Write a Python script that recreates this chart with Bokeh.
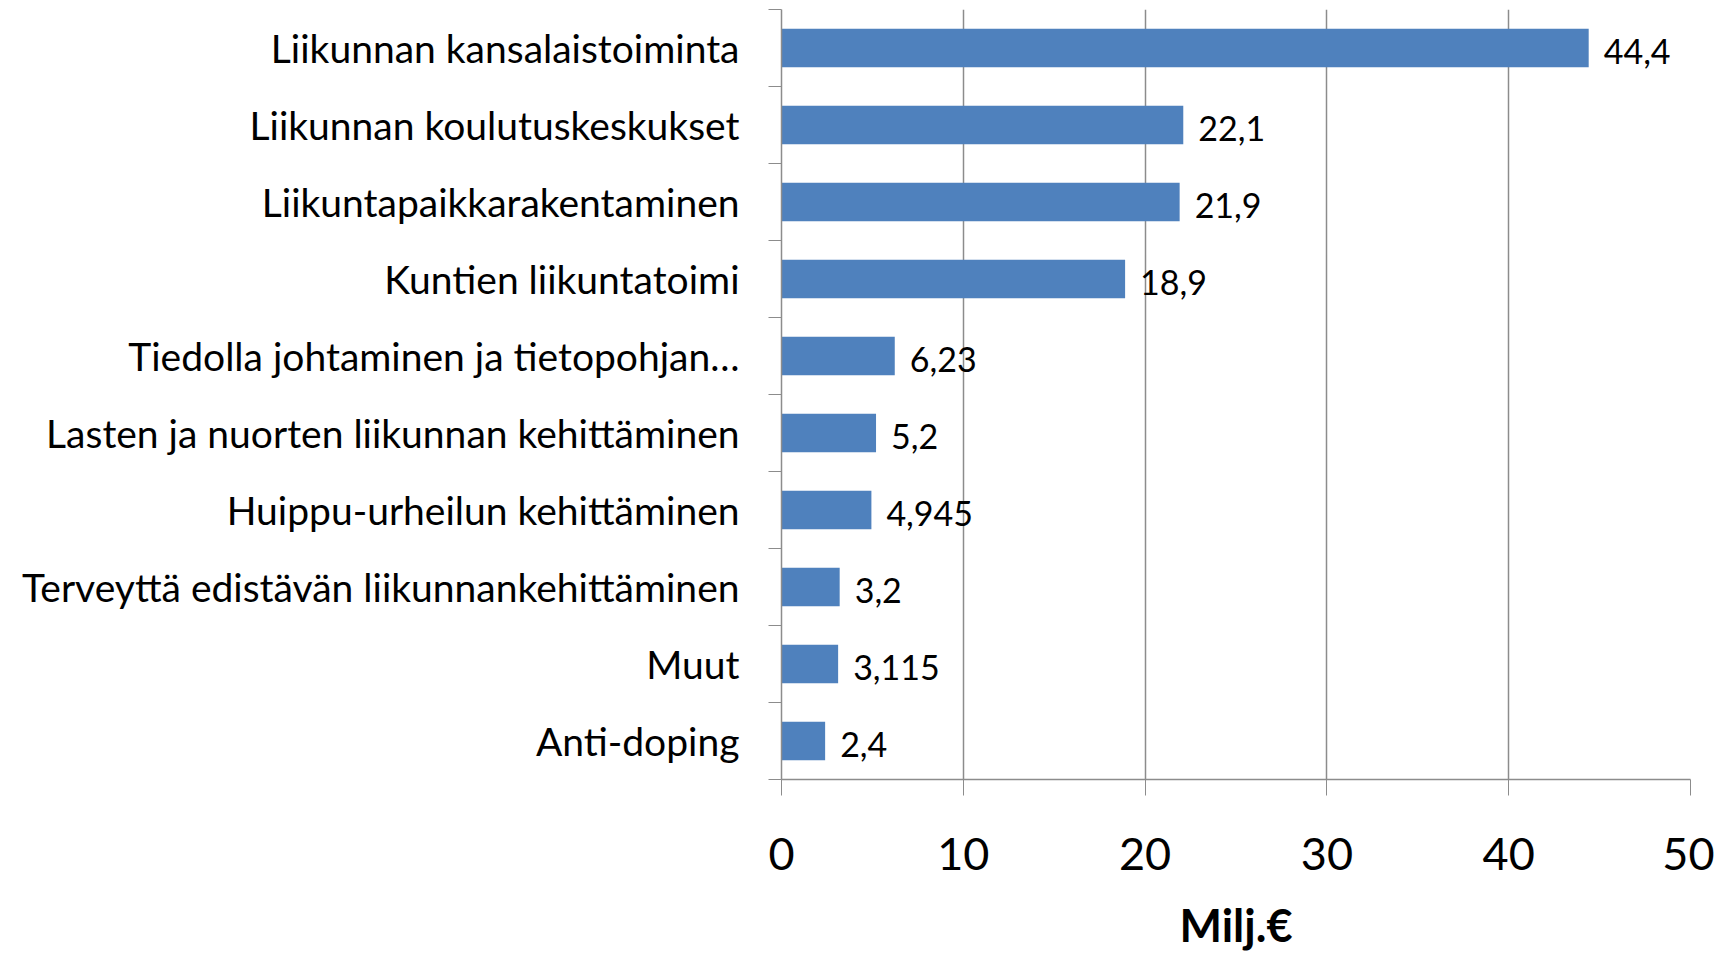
from bokeh.plotting import figure
from bokeh.models import FixedTicker, ColumnDataSource, Range1d
from bokeh.layouts import column
from bokeh.embed import file_html
from bokeh.resources import INLINE
from bokeh.core.properties import value

categories = [
    "Liikunnan kansalaistoiminta",
    "Liikunnan koulutuskeskukset",
    "Liikuntapaikkarakentaminen",
    "Kuntien liikuntatoimi",
    "Tiedolla johtaminen ja tietopohjan\u2026",
    "Lasten ja nuorten liikunnan kehittäminen",
    "Huippu-urheilun kehittäminen",
    "Terveyttä edistävän liikunnankehittäminen",
    "Muut",
    "Anti-doping",
]
values = [44.4, 22.1, 21.9, 18.9, 6.23, 5.2, 4.945, 3.2, 3.115, 2.4]
x_ticks = [0, 10, 20, 30, 40, 50]
x_label = "Milj.€"

FONT = "Lato"
n = len(categories)
ypos = [n - 1 - i + 0.5 for i in range(n)]
labels = [str(v).replace(".", ",") for v in values]

src = ColumnDataSource(dict(y=ypos, v=values, lab=labels, cat=categories))

xr = Range1d(x_ticks[0], x_ticks[-1])
p = figure(width=1714, height=895, output_backend="svg", toolbar_location=None,
           x_range=xr, y_range=Range1d(0, n),
           min_border_left=781, min_border_right=24, min_border_top=9,
           min_border_bottom=116)
p.outline_line_color = None
p.background_fill_color = "white"
p.border_fill_color = "white"

p.hbar(y="y", right="v", left=0, height=0.5, source=src,
       fill_color="#4F81BD", line_color=None)

p.text(x="v", y="y", text="lab", source=src, x_offset=15, y_offset=3,
       text_baseline="middle", text_align="left",
       text_font=value(FONT), text_font_size="34px", text_color="black")

# x axis
p.xaxis.ticker = FixedTicker(ticks=x_ticks)
p.xaxis.axis_line_color = "#8C8C8C"
p.xaxis.axis_line_width = 1.5
p.xaxis.major_tick_line_color = "#8C8C8C"
p.xaxis.major_tick_out = 16
p.xaxis.major_tick_in = 0
p.xaxis.minor_tick_line_color = None
p.xaxis.major_label_text_font = FONT
p.xaxis.major_label_text_font_size = "45px"
p.xaxis.major_label_text_color = "black"
p.xaxis.major_label_standoff = 42

# y axis
yt = FixedTicker(ticks=ypos, minor_ticks=list(range(n + 1)))
p.yaxis.ticker = yt
p.yaxis.major_label_overrides = {y: c for y, c in zip(ypos, categories)}
p.yaxis.axis_line_color = "#8C8C8C"
p.yaxis.axis_line_width = 1.5
p.yaxis.major_tick_line_color = None
p.yaxis.major_tick_out = 0
p.yaxis.major_tick_in = 0
p.yaxis.minor_tick_line_color = "#8C8C8C"
p.yaxis.minor_tick_out = 13
p.yaxis.minor_tick_in = 0
p.yaxis.major_label_text_font = FONT
p.yaxis.major_label_text_font_size = "39px"
p.yaxis.major_label_text_color = "black"
p.yaxis.major_label_standoff = 29

p.xgrid.ticker = FixedTicker(ticks=x_ticks)
p.xgrid.grid_line_color = "#8C8C8C"
p.xgrid.grid_line_width = 1.5
p.ygrid.grid_line_color = None

# strip under the chart holding the axis title, aligned with the plot frame
p2 = figure(width=1714, height=59, output_backend="svg", toolbar_location=None,
            x_range=xr, y_range=Range1d(0, 1),
            min_border_left=781, min_border_right=24, min_border_top=0,
            min_border_bottom=0)
p2.axis.visible = False
p2.grid.grid_line_color = None
p2.outline_line_color = None
p2.text(x=[(x_ticks[0] + x_ticks[-1]) / 2], y=[0.5], text=[x_label],
        text_align="center", text_baseline="middle",
        text_font=value(FONT), text_font_style="bold",
        text_font_size="45px", text_color="black")

layout = column(p, p2, spacing=0)
open("out.html", "w").write(file_html(layout, INLINE))
